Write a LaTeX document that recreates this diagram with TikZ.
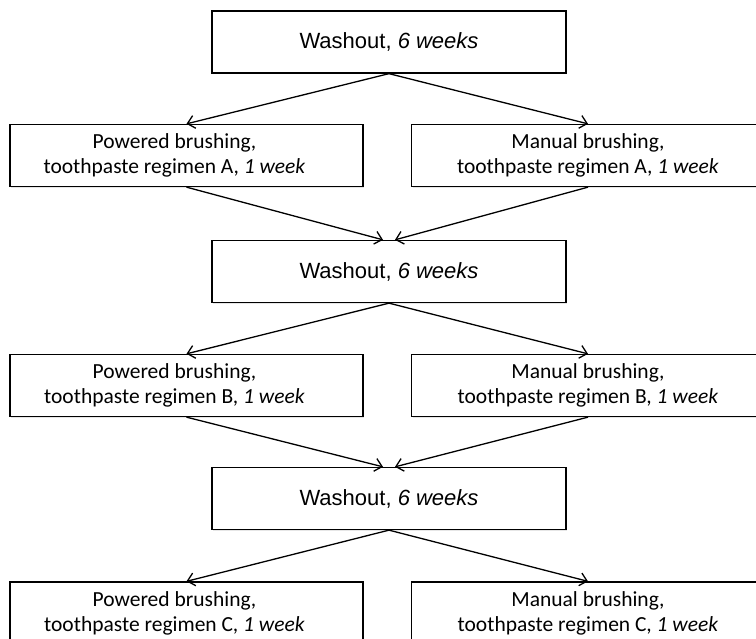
\documentclass[tikz,border=0pt]{standalone}
\usepackage{fontspec}
\setmainfont{Carlito}
\newfontfamily\washfont{Liberation Sans}
\usepackage{tikz}
\usetikzlibrary{arrows.meta}
\usetikzlibrary{positioning,shadows}

\newcommand{\lsh}{\hspace*{-24pt}}

\begin{document}
\begin{tikzpicture}[x=1pt, y=1pt,
    washbox/.style={draw, line width=1.3pt, minimum width=354pt, minimum height=62pt, fill=white,
        drop shadow={shadow xshift=1pt, shadow yshift=-1.5pt, opacity=0.2},
        font=\washfont\fontsize{22}{26}\selectfont},
    armbox/.style={draw, line width=1.3pt, minimum width=353pt, minimum height=62pt, fill=white,
        drop shadow={shadow xshift=1pt, shadow yshift=-1.5pt, opacity=0.2},
        align=center, font=\fontsize{21.5}{25}\selectfont},
    arr/.style={-{Straight Barb[length=7pt,width=13pt]}, line width=1.3pt}]
            \useasboundingbox (0,0) rectangle (756,-639);
            \draw (389,-42) node[washbox]                  (w1) {Washout, \textit{6 weeks}};
            \draw (186.5,-155.5) node[armbox]              (pa) {\lsh Powered brushing,\\\lsh toothpaste regimen A, \textit{1 week}};
            \draw (588,-155.5) node[armbox]                (ma) {Manual brushing,\\toothpaste regimen A, \textit{1 week}};
            \draw (389,-271.5) node[washbox]               (w2) {Washout, \textit{6 weeks}};
            \draw (186.5,-385.5) node[armbox]              (pb) {\lsh Powered brushing,\\\lsh toothpaste regimen B, \textit{1 week}};
            \draw (588,-385.5) node[armbox]                (mb) {Manual brushing,\\toothpaste regimen B, \textit{1 week}};
            \draw (389,-498.5) node[washbox]               (w3) {Washout, \textit{6 weeks}};
            \draw (186.5,-613) node[armbox]                (pc) {\lsh Powered brushing,\\\lsh toothpaste regimen C, \textit{1 week}};
            \draw (588,-613) node[armbox]                  (mc) {Manual brushing,\\toothpaste regimen C, \textit{1 week}};
            \draw[arr] (w1.south) -- (pa.north);
            \draw[arr] (w1.south) -- (ma.north);
            \draw[arr] (pa.south) -- ([xshift=-6pt]w2.north);
            \draw[arr] (ma.south) -- ([xshift=6pt]w2.north);
            \draw[arr] (w2.south) -- (pb.north);
            \draw[arr] (w2.south) -- (mb.north);
            \draw[arr] (pb.south) -- ([xshift=-6pt]w3.north);
            \draw[arr] (mb.south) -- ([xshift=6pt]w3.north);
            \draw[arr] (w3.south) -- (pc.north);
            \draw[arr] (w3.south) -- (mc.north);
\end{tikzpicture}
\end{document}
